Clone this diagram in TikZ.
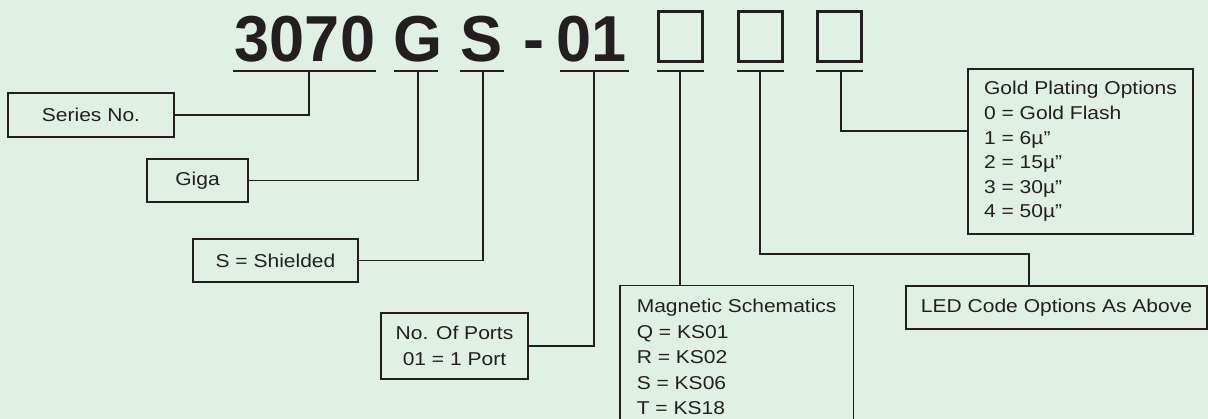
\documentclass[tikz,border=0pt]{standalone}
\usepackage{fontspec}
\setmainfont{Liberation Sans}
\newfontfamily\labfont{Liberation Sans}[FakeStretch=1.13]
\newfontfamily\titlefont{Liberation Sans}[FakeStretch=0.97]
\definecolor{bg}{HTML}{E1F0E5}
\definecolor{ink}{HTML}{231F20}
\begin{document}
\begin{tikzpicture}[x=1pt,y=-1pt,
  box/.style={draw=ink, line width=1.5pt, rectangle, inner sep=0pt, text=ink,
    font=\labfont\fontsize{18.6}{24.6}\selectfont},
  conn/.style={draw=ink, line width=1.5pt},
  uline/.style={draw=ink, line width=1.8pt},
  big/.style={font=\titlefont\bfseries\fontsize{65}{70}\selectfont, text=ink, inner sep=0pt, anchor=base},
  slot/.style={draw=ink, line width=2.8pt, minimum width=44pt, minimum height=50pt, inner sep=0pt}]
\fill[bg] (0,0) rectangle (1208,419);
\useasboundingbox (0,0) rectangle (1208,419);
\clip (0,0) rectangle (1208,419);
% title
\node[big] (n3070) at (305,62) {3070};
\node[big] (nG) at (418,62) {G};
\node[big] (nS) at (482,62) {S};
\node[big] (ndash) at (533.5,62) {-};
\node[big] (n01) at (592,62) {01};
\node[slot] (s1) at (680.5,36.5) {};
\node[slot] (s2) at (760.5,36.5) {};
\node[slot] (s3) at (839.5,36.5) {};
% underlines
\draw[uline] (233,71) -- (376,71);
\draw[uline] (394,71) -- (438,71);
\draw[uline] (460,71) -- (504,71);
\draw[uline] (560,71) -- (629,71);
\draw[uline] (657,71) -- (704,71);
\draw[uline] (737,71) -- (784,71);
\draw[uline] (816,71) -- (863,71);
\coordinate (t1) at (309,71);
\coordinate (t2) at (418,71);
\coordinate (t3) at (483,71);
\coordinate (t4) at (594,71);
\coordinate (t5) at (680,71);
\coordinate (t6) at (760,71);
\coordinate (t7) at (841,71);
% boxes
\node[box, minimum width=166pt, minimum height=44pt] (series) at (91,115) {Series No.};
\node[box, minimum width=101pt, minimum height=43pt] (giga) at (197.5,180.5) {Giga};
\node[box, minimum width=165pt, minimum height=43pt] (shield) at (275.5,260.5) {S = Shielded};
\node[box, minimum width=147pt, minimum height=66pt, align=center,
  font=\labfont\fontsize{18.6}{26}\selectfont] (ports) at (454.5,346) {No. Of Ports\\01 = 1 Port};
\node[box, anchor=north west, minimum width=232pt, inner xsep=17pt, inner ysep=13.4pt, align=left,
  font=\labfont\fontsize{18.6}{25.5}\selectfont] (mag) at (619,285)
  {Magnetic Schematics\\Q = KS01\\R = KS02\\S = KS06\\T = KS18};
\node[box, minimum width=301pt, minimum height=43pt] (led) at (1056.5,307.5) {LED Code Options As Above};
\node[box, minimum width=225pt, minimum height=165pt, align=left] (gold) at (1080.5,151.5)
  {Gold Plating Options\\0 = Gold Flash\\1 = 6µ”\\2 = 15µ”\\3 = 30µ”\\4 = 50µ”};
% connectors
\draw[conn] (series.east) -| (t1);
\draw[conn] (giga.east) -| (t2);
\draw[conn] (shield.east) -| (t3);
\draw[conn] (ports.east) -| (t4);
\draw[conn] (t5) -- (t5 |- mag.north);
\coordinate (ledj) at (1029,254);
\draw[conn] (t6) |- (ledj) -- (ledj |- led.north);
\draw[conn] (t7) |- ([yshift=20.5pt]gold.west);
\end{tikzpicture}
\end{document}
